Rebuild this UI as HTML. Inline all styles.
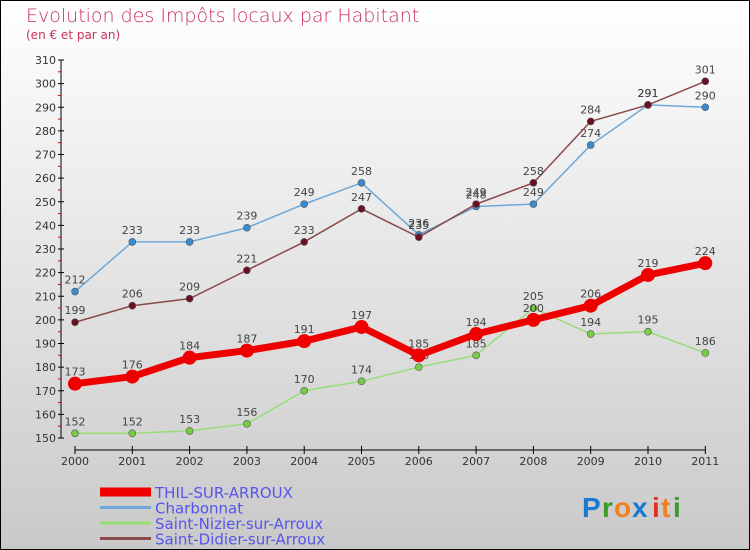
<!DOCTYPE html>
<html><head><meta charset="utf-8"><style>
body{margin:0}
#c{width:750px;height:550px;position:relative;background:linear-gradient(#fff,#c9c9c9);box-sizing:border-box;border:1px solid #000;font-family:"DejaVu Sans","Liberation Sans",sans-serif}
</style></head><body>
<div id="c">
<svg id="s" width="750" height="550" style="position:absolute;left:-1px;top:-1px">
<text x="26" y="22" font-size="19" fill="#c8325a" font-family="DejaVu Sans" font-weight="200">Evolution des Impôts locaux par Habitant</text>
<text x="26" y="39" font-size="12" fill="#c8325a">(en € et par an)</text>
<g id="ax"></g><g id="ser"></g><g id="leg"></g>
<g font-size="28" font-weight="bold" font-family="Liberation Sans">
<text x="582" y="517" fill="#1a7ad0">P</text><text x="602" y="517" fill="#3a9a2a">r</text><text x="614" y="517" fill="#f08020">o</text><text x="632" y="517" fill="#1a7ad0">x</text><text x="652" y="517" fill="#e03020">i</text><text x="661" y="517" fill="#f08020">t</text><text x="673" y="517" fill="#3a9a2a">i</text></g>
</svg></div>
<script>
const years=["2000","2001","2002","2003","2004","2005","2006","2007","2008","2009","2010","2011"];
const yTicks=[150,160,170,180,190,200,210,220,230,240,250,260,270,280,290,300,310];
const thil=[173,176,184,187,191,197,185,194,200,206,219,224];
const charbonnat=[212,233,233,239,249,258,236,248,249,274,291,290];
const nizier=[152,152,153,156,170,174,180,185,205,194,195,186];
const didier=[199,206,209,221,233,247,235,249,258,284,291,301];
const NS="http://www.w3.org/2000/svg";
function X(i){return 75+i*57.3;}
function Y(v){return 438-(v-150)*2.3625;}
function mk(t,a,p){const e=document.createElementNS(NS,t);for(const k in a)e.setAttribute(k,a[k]);p.appendChild(e);return e;}
const ax=document.getElementById('ax');
let l=mk('line',{x1:61,y1:Y(310),x2:61,y2:Y(150),stroke:'#000'},ax);


l=mk('line',{x1:X(0),y1:450,x2:X(11),y2:450,stroke:'#000'},ax);


yTicks.forEach((v,i)=>{
 mk('line',{x1:58,y1:Y(v),x2:64,y2:Y(v),stroke:'#000'},ax);
 if(i<yTicks.length-1)mk('line',{x1:58,y1:Y(v+5),x2:61,y2:Y(v+5),stroke:'#d00'},ax);
 const t=mk('text',{x:56,y:Y(v)+4,'font-size':11,fill:'#333','text-anchor':'end'},ax);t.textContent=v;
 
 
});
years.forEach((y,i)=>{
 mk('line',{x1:X(i),y1:446,x2:X(i),y2:454,stroke:'#000'},ax);
 const t=mk('text',{x:X(i),y:465,'font-size':11,fill:'#333','text-anchor':'middle'},ax);t.textContent=y;
 
 
});
const ser=document.getElementById('ser');
const series=[
 {name:'Saint-Nizier-sur-Arroux',d:nizier,c:'#99dd77',w:1.5,r:3.5,f:'#77cc44'},
 {name:'Charbonnat',d:charbonnat,c:'#6fa8d8',w:1.5,r:3.5,f:'#3a8ad0'},
 {name:'Saint-Didier-sur-Arroux',d:didier,c:'#8a4a4a',w:1.5,r:3.5,f:'#6a1020'},
 {name:'THIL-SUR-ARROUX',d:thil,c:'#ee0000',w:7,r:7,f:'#ee0000'}];
series.forEach(s=>{
 const g=mk('g',{},ser);
 
 
 mk('polyline',{points:s.d.map((v,i)=>X(i)+','+Y(v)).join(' '),fill:'none',stroke:s.c,'stroke-width':s.w},g);
 s.d.forEach((v,i)=>{
  const c=mk('circle',{cx:X(i),cy:Y(v),r:s.r,fill:s.f,stroke:'#555','stroke-width':s.w>2?0:0.6},g);
  
  
  const t=mk('text',{x:X(i),y:Y(v)-8,'font-size':11,fill:'#444','text-anchor':'middle'},g);t.textContent=v;
 });
});
const leg=document.getElementById('leg');
[series[3],series[1],series[0],series[2]].forEach((s,i)=>{
 const y=492+i*15.5;
 const g=mk('g',{},leg);
 
 
 mk('line',{x1:100,y1:y,x2:151,y2:y,stroke:s.c,'stroke-width':s.w>2?9:3},g);
 const t=mk('text',{x:155,y:y+6,'font-size':15,fill:'#5555ee'},g);t.textContent=s.name;
});
</script>
</body></html>
